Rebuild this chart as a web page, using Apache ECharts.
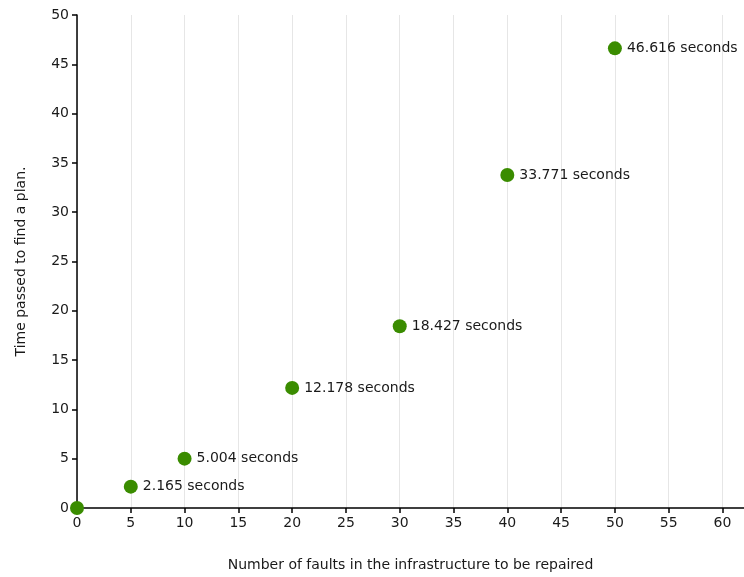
<!DOCTYPE html>
<html>
<head>
<meta charset="utf-8">
<script src="https://cdn.jsdelivr.net/npm/echarts@6/dist/echarts.min.js"></script>
<style>html,body{margin:0;padding:0;background:#fff;}#c{width:744px;height:577px;}</style>
</head>
<body>
<div id="c"></div>
<script>
const faults = [0, 5, 10, 20, 30, 40, 50];
const seconds = [0, 2.165, 5.004, 12.178, 18.427, 33.771, 46.616];
const xName = 'Number of faults in the infrastructure to be repaired';
const yName = 'Time passed to find a plan.';

const chart = echarts.init(document.getElementById('c'));
const font = 'DejaVu Sans';
chart.setOption({
  animation: false,
  grid: { left: 77, right: 0, top: 15, bottom: 69 },
  xAxis: {
    type: 'value', min: 0, max: 62, interval: 5,
    name: xName, nameLocation: 'middle', nameGap: 50,
    nameTextStyle: { fontFamily: font, fontSize: 14, color: '#1a1a1a' },
    axisLine: { lineStyle: { color: '#000', width: 1.5 } },
    axisTick: { show: true, length: 5, lineStyle: { color: '#000', width: 1.5 } },
    axisLabel: { fontFamily: font, fontSize: 14, color: '#1a1a1a', margin: 8, showMaxLabel: false,
      formatter: v => (v % 5 === 0 ? String(v) : '') },
    splitLine: { show: true, lineStyle: { color: '#e6e6e6', width: 1 } }
  },
  yAxis: {
    type: 'value', min: 0, max: 50, interval: 5,
    name: yName, nameLocation: 'middle', nameGap: 49,
    nameTextStyle: { fontFamily: font, fontSize: 14, color: '#1a1a1a' },
    axisLine: { show: true, lineStyle: { color: '#000', width: 1.5 } },
    axisTick: { show: true, length: 5, lineStyle: { color: '#000', width: 1.5 } },
    axisLabel: { fontFamily: font, fontSize: 14, color: '#1a1a1a', margin: 8 },
    splitLine: { show: false }
  },
  series: [{
    type: 'scatter',
    symbolSize: 14,
    itemStyle: { color: '#3a8c00', opacity: 1 },
    data: faults.map((f, i) => [f, seconds[i]]),
    label: {
      show: true, position: 'right', distance: 5,
      fontFamily: font, fontSize: 14, color: '#1a1a1a',
      formatter: p => (p.value[1] === 0 ? '' : p.value[1].toFixed(3) + ' seconds')
    }
  }]
});
</script>
</body>
</html>
